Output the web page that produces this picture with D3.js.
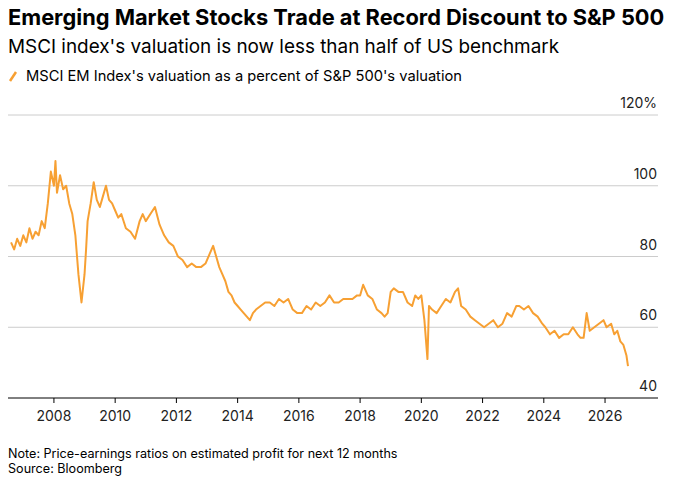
<!DOCTYPE html>
<html>
<head>
<script src="https://cdn.jsdelivr.net/npm/d3@7"></script>
<style>body{margin:0;background:#fff;font-family:Inter,"Noto Sans",sans-serif}</style>
</head>
<body>
<svg width="682" height="483" id="chart"></svg>
<script>
const years = [
  2006.6,2006.7,2006.8,2006.9,2007.0,2007.1,2007.2,2007.3,2007.4,2007.5,2007.6,2007.7,2007.8,2007.9,
  2008.0,2008.05,2008.1,2008.2,2008.3,2008.4,2008.5,2008.6,2008.7,2008.8,2008.9,
  2009.0,2009.05,2009.1,2009.2,2009.3,2009.4,2009.5,2009.6,2009.7,2009.8,2009.9,
  2010.0,2010.1,2010.2,2010.35,2010.5,2010.65,2010.8,2010.9,
  2011.0,2011.15,2011.3,2011.45,2011.6,2011.75,2011.9,
  2012.05,2012.2,2012.35,2012.5,2012.65,2012.8,2012.95,
  2013.1,2013.2,2013.3,2013.4,2013.5,2013.6,2013.7,2013.8,2013.9,
  2014.0,2014.1,2014.2,2014.3,2014.4,2014.5,2014.6,2014.75,2014.9,
  2015.05,2015.2,2015.35,2015.5,2015.65,2015.8,2015.95,
  2016.1,2016.25,2016.4,2016.55,2016.7,2016.85,
  2017.0,2017.15,2017.3,2017.45,2017.6,2017.75,2017.9,
  2018.0,2018.1,2018.25,2018.4,2018.55,2018.7,2018.8,2018.9,
  2019.0,2019.1,2019.25,2019.4,2019.55,2019.7,2019.8,2019.9,
  2020.0,2020.1,2020.2,2020.25,2020.35,2020.5,2020.65,2020.8,2020.95,
  2021.1,2021.2,2021.3,2021.45,2021.6,2021.75,2021.9,
  2022.05,2022.2,2022.35,2022.5,2022.65,2022.8,2022.95,
  2023.1,2023.2,2023.35,2023.5,2023.65,2023.8,2023.95,
  2024.05,2024.2,2024.35,2024.5,2024.65,2024.8,2024.95,
  2025.1,2025.2,2025.3,2025.4,2025.5,2025.65,2025.8,2025.95,
  2026.05,2026.2,2026.3,2026.4,2026.5,2026.6,2026.7,2026.75];
const ratio = [
  84,82,85,83,86,84,88,85,87,86,90,88,95,104,
  100,107,98,103,99,100,95,92,86,75,67,
  75,82,90,95,101,96,94,97,100,96,95,
  93,91,92,88,87,85,90,92,
  90,92,94,89,86,84,83,
  80,79,77,78,77,77,78,
  81,83,80,77,75,73,70,69,67,
  66,65,64,63,62,64,65,66,67,
  67,66,68,67,68,65,64,
  64,66,65,67,66,67,
  69,67,67,68,68,68,69,
  69,72,69,68,65,64,63,64,
  70,71,70,70,67,66,69,68,
  69,62,51,66,65,64,66,68,67,
  70,71,66,65,63,62,61,
  60,61,62,60,61,64,63,
  66,66,65,66,64,63,61,
  60,58,59,57,58,58,60,
  58,57,57,64,59,60,61,62,
  60,61,58,59,56,55,52,49];
const yTicks = [40,60,80,100,120];
const xTicks = [2008,2010,2012,2014,2016,2018,2020,2022,2024,2026];

const svg = d3.select('#chart');
const x = d3.scaleLinear().domain([2006.5, 2027.73]).range([8, 658]);
const y = d3.scaleLinear().domain([40, 120]).range([398, 115]);
const orange = '#f7a033';

svg.append('text').attr('x', 8).attr('y', 25).text('Emerging Market Stocks Trade at Record Discount to S&P 500')
  .attr('font-size', 21.8).attr('font-weight', 700).attr('fill', '#000');
svg.append('text').attr('x', 8).attr('y', 53).text("MSCI index's valuation is now less than half of US benchmark")
  .attr('font-size', 18.9).attr('fill', '#000');
svg.append('line').attr('x1', 10).attr('y1', 81).attr('x2', 16).attr('y2', 72)
  .attr('stroke', orange).attr('stroke-width', 2.5);
svg.append('text').attr('x', 26).attr('y', 81).text("MSCI EM Index's valuation as a percent of S&P 500's valuation")
  .attr('font-size', 14.7).attr('fill', '#000');

svg.append('g').selectAll('line').data(yTicks).join('line')
  .attr('x1', 8).attr('x2', 658).attr('y1', d => y(d)).attr('y2', d => y(d))
  .attr('stroke', d => d === 40 ? '#000' : '#ccc').attr('stroke-width', 1);
svg.append('g').selectAll('text').data(yTicks).join('text')
  .attr('x', 657).attr('y', d => y(d) - 7).attr('text-anchor', 'end')
  .attr('font-size', 14).attr('fill', '#222').text(d => d === 120 ? '120%' : d);

svg.append('g').selectAll('line').data(xTicks).join('line')
  .attr('x1', d => x(d)).attr('x2', d => x(d)).attr('y1', 398).attr('y2', 403).attr('stroke', '#000');
svg.append('g').selectAll('text').data(xTicks).join('text')
  .attr('x', d => x(d)).attr('y', 421).attr('text-anchor', 'middle')
  .attr('font-size', 14).attr('fill', '#222').text(d => d);

const line = d3.line().x((d, i) => x(years[i])).y(d => y(d));
svg.append('path').datum(ratio).attr('d', line).attr('fill', 'none')
  .attr('stroke', orange).attr('stroke-width', 2).attr('stroke-linejoin', 'round');

svg.append('text').attr('x', 8).attr('y', 458).text('Note: Price-earnings ratios on estimated profit for next 12 months')
  .attr('font-size', 12.6).attr('fill', '#000');
svg.append('text').attr('x', 8).attr('y', 473).text('Source: Bloomberg')
  .attr('font-size', 12.6).attr('fill', '#000');
</script>
</body>
</html>
